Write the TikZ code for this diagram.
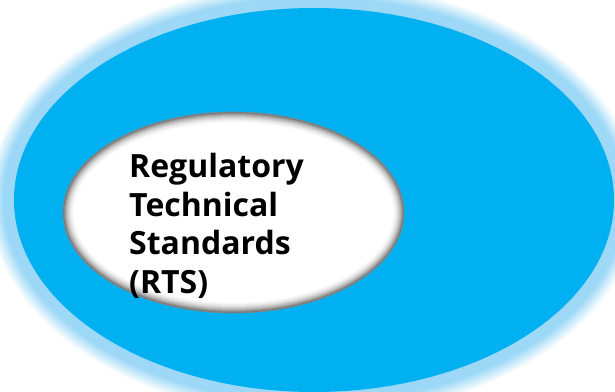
\documentclass[tikz,border=0pt]{standalone}
\usepackage{fontspec}
\setmainfont{Open Sans}
\definecolor{bigblue}{HTML}{00B0F0}
\definecolor{halo}{HTML}{9DD9F7}
\definecolor{rimgray}{HTML}{8A8A8A}
\tikzset{
  labeltext/.style={align=left, anchor=base west, inner sep=0pt, text=black,
    font=\fontsize{32}{38.5}\selectfont\bfseries},
}
\begin{document}
\begin{tikzpicture}[x=1pt,y=1pt]
\useasboundingbox (0,0) rectangle (615,391);
\clip (0,0) rectangle (615,391);
\fill[white] (0,0) rectangle (615,391);
% halo
\foreach \i in {26,...,1}{
  \pgfmathtruncatemacro\c{min(100,100*(26-\i)/15)}
  \fill[halo!\c!white] (314,191) ellipse ({300+\i} and {192+\i});
}
\fill[bigblue] (314,191) ellipse (300 and 192);
% inner ellipse with inner shadow
\foreach \i in {0,...,12}{
  \pgfmathtruncatemacro\c{55*(1-\i/12)^2}
  \fill[black!\c!white] (233.5,178.5) ellipse ({170.5-\i} and {100.5-\i});
}
\draw[rimgray, line width=0.6pt] (233.5,178.5) ellipse (170.5 and 100.5);
\node[labeltext] (rts) at (129,98) {Regulatory\\Technical\\Standards\\(RTS)};
\end{tikzpicture}
\end{document}
